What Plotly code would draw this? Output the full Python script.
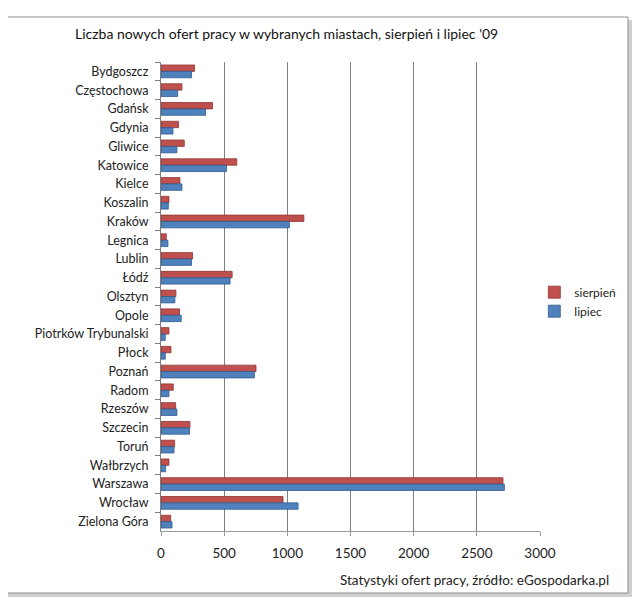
import plotly.graph_objects as go

cities = ["Bydgoszcz", "Częstochowa", "Gdańsk", "Gdynia", "Gliwice", "Katowice", "Kielce",
          "Koszalin", "Kraków", "Legnica", "Lublin", "Łódź", "Olsztyn", "Opole",
          "Piotrków Trybunalski", "Płock", "Poznań", "Radom", "Rzeszów", "Szczecin",
          "Toruń", "Wałbrzych", "Warszawa", "Wrocław", "Zielona Góra"]
sierpien = [265, 166, 408, 139, 184, 600, 150, 63, 1131, 42, 250, 563, 118, 147,
            63, 79, 752, 97, 116, 229, 108, 63, 2707, 966, 77]
lipiec = [242, 132, 353, 95, 126, 518, 166, 58, 1016, 55, 242, 547, 110, 160,
          34, 34, 739, 63, 126, 226, 103, 37, 2718, 1085, 87]
x_ticks = [0, 500, 1000, 1500, 2000, 2500, 3000]

title_text = "Liczba nowych ofert pracy w wybranych miastach, sierpień i lipiec '09"
source_text = "Statystyki ofert pracy, źródło: eGospodarka.pl"

FONT = "Lato, Open Sans, sans-serif"

fig = go.Figure()
fig.add_trace(go.Bar(y=cities, x=sierpien, orientation="h", name="sierpień",
                     marker=dict(color="#C0504D", line=dict(color="#8E3330", width=0.8))))
fig.add_trace(go.Bar(y=cities, x=lipiec, orientation="h", name="lipiec",
                     marker=dict(color="#4F81BD", line=dict(color="#2F5A8E", width=0.8))))

# page has an 8px body margin; figure offsets compensate so the plot lands at the reference spot
fig.update_layout(
    width=640, height=604,
    margin=dict(l=153, r=108, t=54, b=81, autoexpand=False),
    paper_bgcolor="white", plot_bgcolor="white",
    barmode="group", bargap=0.32, bargroupgap=0.0,
    font=dict(family=FONT, size=12, color="#222"),
    showlegend=True,
    legend=dict(x=0.985, y=0.489, xanchor="left", yanchor="middle",
                font=dict(size=12), itemwidth=30,
                bgcolor="rgba(0,0,0,0)"),
    xaxis=dict(range=[0, 3000], tickvals=x_ticks, showgrid=True, gridcolor="#7F7F7F",
               gridwidth=1, zeroline=False, showline=True, linecolor="#9A9A9A",
               ticks="outside", ticklen=4, tickcolor="#9A9A9A",
               tickfont=dict(size=13.5), ticklabelstandoff=6),
    yaxis=dict(autorange="reversed", showline=True, linecolor="#7F7F7F",
               ticks="outside", ticklen=5, tickcolor="#7F7F7F", tickson="boundaries",
               tickfont=dict(size=12.5), showgrid=False, ticklabelstandoff=9),
)

fig.add_annotation(text=title_text, xref="paper", yref="paper",
                   x=(286 - 161) / 379, y=(531 - 33) / 469, xanchor="center", yanchor="middle",
                   showarrow=False, font=dict(size=14, family=FONT, color="#111"))
fig.add_annotation(text=source_text, xref="paper", yref="paper",
                   x=(611 - 161) / 379, y=(531 - 580) / 469, xanchor="right", yanchor="middle",
                   showarrow=False, font=dict(size=13.5, family=FONT, color="#222"))

def px_x(px):
    return (px - 161) / 379

def px_y(py):
    return (531 - py) / 469

fig.add_shape(type="rect", xref="paper", yref="paper",
              x0=px_x(8), x1=px_x(632), y0=px_y(20), y1=px_y(597),
              line=dict(width=0), fillcolor="rgba(120,120,120,0.35)", layer="below")
fig.add_shape(type="rect", xref="paper", yref="paper",
              x0=px_x(5), x1=px_x(628), y0=px_y(17), y1=px_y(593),
              line=dict(color="#8C8C8C", width=1), fillcolor="white", layer="below")

fig.write_html("out.html")
